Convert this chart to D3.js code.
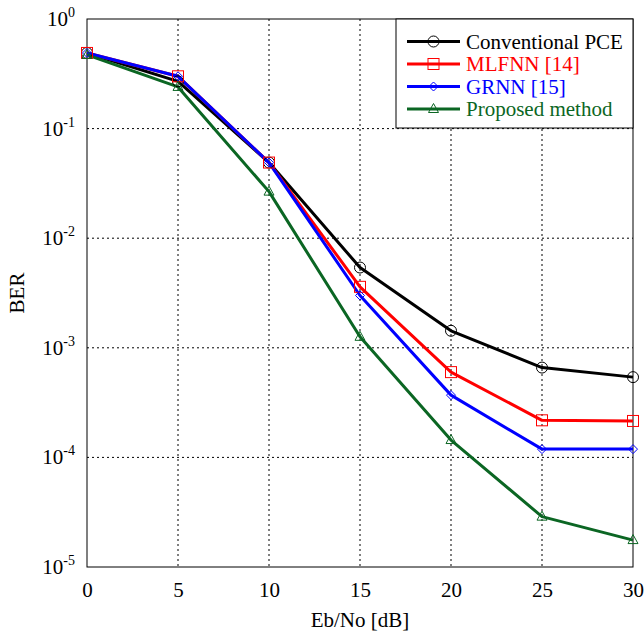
<!DOCTYPE html>
<html>
<head>
<meta charset="UTF-8">
<script src="https://d3js.org/d3.v7.min.js"></script>
<style>
  body { margin: 0; background: #fff; }
  svg text { font-family: "Liberation Serif", "Times New Roman", serif; }
</style>
</head>
<body>
<div id="chart"></div>
<script>
// values
var snr = [0, 5, 10, 15, 20, 25, 30];
var berPCE      = [0.49, 0.27, 0.049, 0.0054, 0.00143, 0.00066, 0.00054];
var berMLFNN    = [0.49, 0.30, 0.049, 0.0036, 0.00060, 0.000218, 0.000215];
var berGRNN     = [0.49, 0.30, 0.049, 0.0030, 0.00037, 0.000119, 0.000119];
var berProposed = [0.47, 0.24, 0.0266, 0.00126, 0.000144, 0.0000288, 0.0000176];
var xTicks = [0, 5, 10, 15, 20, 25, 30];
var yExps = [0, -1, -2, -3, -4, -5];

var series = [
  {name: "Conventional PCE", vals: berPCE, color: "#000000", marker: "circle"},
  {name: "MLFNN [14]", vals: berMLFNN, color: "#ff0000", marker: "square"},
  {name: "GRNN [15]", vals: berGRNN, color: "#0000ff", marker: "diamond"},
  {name: "Proposed method", vals: berProposed, color: "#0b6623", marker: "triangle"}
];

var W = 644, H = 633;
var margin = {top: 19, right: 11, bottom: 66, left: 87};
var width = W - margin.left - margin.right,
    height = H - margin.top - margin.bottom;

var svg = d3.select("#chart").append("svg")
  .attr("width", W).attr("height", H);
var g = svg.append("g")
  .attr("transform", "translate(" + margin.left + "," + margin.top + ")");

var x = d3.scaleLinear().domain([0, 30]).range([0, width]);
var y = d3.scaleLog().domain([1e-5, 1]).range([height, 0]);

// grid
g.append("g").selectAll("line").data(xTicks.slice(1, -1)).enter().append("line")
  .attr("x1", function(d){ return x(d); }).attr("x2", function(d){ return x(d); })
  .attr("y1", 0).attr("y2", height)
  .attr("stroke", "#000").attr("stroke-width", 1).attr("stroke-dasharray", "2,3");
g.append("g").selectAll("line").data(yExps.slice(1, -1)).enter().append("line")
  .attr("x1", 0).attr("x2", width)
  .attr("y1", function(d){ return y(Math.pow(10, d)); })
  .attr("y2", function(d){ return y(Math.pow(10, d)); })
  .attr("stroke", "#000").attr("stroke-width", 1).attr("stroke-dasharray", "2,3");

// frame
g.append("rect").attr("x", 0).attr("y", 0).attr("width", width).attr("height", height)
  .attr("fill", "none").attr("stroke", "#000").attr("stroke-width", 1);

// x tick labels
var xAxis = g.append("g").attr("transform", "translate(0," + height + ")")
  .call(d3.axisBottom(x).tickValues(xTicks).tickSize(0).tickPadding(0).tickFormat(d3.format("d")));
xAxis.select(".domain").remove();
xAxis.selectAll("text")
  .attr("y", 30)
  .attr("dy", null)
  .style("font-family", "Liberation Serif")
  .style("font-size", "21px")
  .attr("fill", "#000");

// y tick labels: 10 with superscript exponent
var yl = g.append("g").selectAll("text").data(yExps).enter().append("text")
  .attr("x", -12)
  .attr("y", function(d){ return y(Math.pow(10, d)) + 7; })
  .attr("text-anchor", "end")
  .style("font-size", "21px")
  .attr("fill", "#000");
yl.append("tspan").text("10");
yl.append("tspan").attr("dy", -9).style("font-size", "14px")
  .text(function(d){ return d === 0 ? "0" : "-" + (-d); });

// axis titles
g.append("text")
  .attr("x", width / 2).attr("y", height + 60)
  .attr("text-anchor", "middle").style("font-size", "21px")
  .text("Eb/No [dB]");
g.append("text")
  .attr("transform", "translate(" + (-63) + "," + (height / 2) + ") rotate(-90)")
  .attr("text-anchor", "middle").style("font-size", "21px")
  .text("BER");

// lines
var line = d3.line()
  .x(function(d, i){ return x(snr[i]); })
  .y(function(d){ return y(d); });

function drawMarker(sel, type, color) {
  if (type === "circle") {
    sel.append("circle").attr("r", 5.5)
      .attr("fill", "none").attr("stroke", color).attr("stroke-width", 1);
  } else if (type === "square") {
    sel.append("rect").attr("x", -5.5).attr("y", -5.5).attr("width", 11).attr("height", 11)
      .attr("fill", "none").attr("stroke", color).attr("stroke-width", 1);
  } else if (type === "diamond") {
    sel.append("path").attr("d", "M0,-4.5L4.5,0L0,4.5L-4.5,0Z")
      .attr("fill", "none").attr("stroke", color).attr("stroke-width", 1);
  } else {
    sel.append("path").attr("d", "M0,-5.5L5,3.5L-5,3.5Z")
      .attr("fill", "none").attr("stroke", color).attr("stroke-width", 1);
  }
}

series.forEach(function(s) {
  g.append("path").datum(s.vals)
    .attr("d", line)
    .attr("fill", "none")
    .attr("stroke", s.color)
    .attr("stroke-width", 3)
    .attr("stroke-linejoin", "round");
});
series.forEach(function(s) {
  s.vals.forEach(function(v, i) {
    var m = g.append("g").attr("transform", "translate(" + x(snr[i]) + "," + y(v) + ")");
    drawMarker(m, s.marker, s.color);
  });
});

// legend
var lg = g.append("g").attr("transform", "translate(" + (width - 237) + ",0)");
lg.append("rect").attr("x", 0).attr("y", 0).attr("width", 237).attr("height", 109)
  .attr("fill", "#fff").attr("stroke", "#000").attr("stroke-width", 1);
series.forEach(function(s, i) {
  var row = lg.append("g").attr("transform", "translate(0," + (22.5 + i * 22.5) + ")");
  row.append("line").attr("x1", 11).attr("x2", 64).attr("y1", 0).attr("y2", 0)
    .attr("stroke", s.color).attr("stroke-width", 3);
  var m = row.append("g").attr("transform", "translate(37.5,0)");
  drawMarker(m, s.marker, s.color);
  row.append("text").attr("x", 70).attr("y", 7)
    .style("font-size", "21px").attr("fill", s.color)
    .text(s.name);
});
</script>
</body>
</html>
